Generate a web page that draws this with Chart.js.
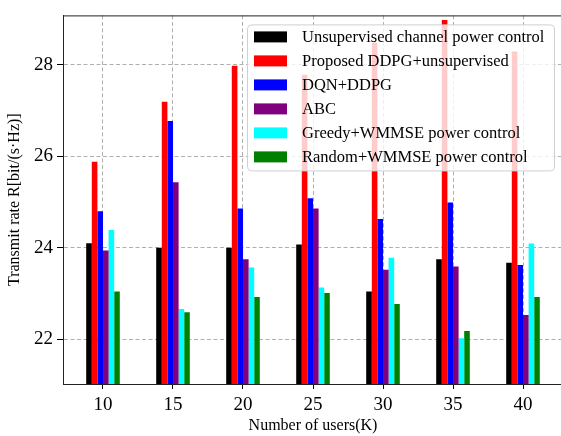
<!DOCTYPE html>
<html>
<head>
<meta charset="utf-8">
<script src="https://cdn.jsdelivr.net/npm/chart.js@4"></script>
<style>
  html, body { margin: 0; padding: 0; overflow: hidden; background: #fff; }
  #wrap { width: 564px; height: 436px; }
</style>
</head>
<body>
<div id="wrap"><canvas id="myChart" width="564" height="436"></canvas></div>
<script>
const users = [10, 15, 20, 25, 30, 35, 40];
const unsupervised = [24.1, 24.0, 24.0, 24.07, 23.04, 23.75, 23.67];
const proposed = [25.88, 27.19, 27.98, 27.78, 28.49, 28.98, 28.29];
const dqnDdpg = [24.8, 26.77, 24.86, 25.08, 24.63, 24.99, 23.62];
const abc = [23.94, 25.43, 23.75, 24.86, 23.52, 23.59, 22.53];
const greedy = [24.39, 22.66, 23.57, 23.13, 23.78, 22.02, 24.09];
const random = [23.04, 22.59, 22.92, 23.01, 22.77, 22.18, 22.92];
const yTicks = [22, 24, 26, 28];

const serif = "'Liberation Serif', 'Times New Roman', serif";
Chart.defaults.font.family = serif;
Chart.defaults.color = "#000";

const points = (arr) => arr.map((v, i) => ({ x: users[i], y: v }));

// legend box drawn over the plot, semi-transparent like matplotlib
const boxLegend = {
  id: "boxLegend",
  afterDraw(chart) {
    const { ctx, chartArea } = chart;
    ctx.save();
    // top spine
    ctx.strokeStyle = "#222";
    ctx.lineWidth = 1;
    ctx.beginPath();
    ctx.moveTo(chartArea.left, chartArea.top + 0.5);
    ctx.lineTo(chartArea.right, chartArea.top + 0.5);
    ctx.stroke();

    const x0 = chartArea.right - 316;
    const y0 = chartArea.top + 9;
    ctx.beginPath();
    ctx.roundRect(x0 + 0.5, y0 + 0.5, 307, 146, 4);
    ctx.fillStyle = "rgba(255,255,255,0.8)";
    ctx.fill();
    ctx.strokeStyle = "#d0d0d0";
    ctx.stroke();

    ctx.font = "16.5px " + serif;
    ctx.textBaseline = "middle";
    chart.data.datasets.forEach((ds, i) => {
      const cy = y0 + 12.5 + i * 24;
      ctx.fillStyle = ds.backgroundColor;
      ctx.fillRect(x0 + 7, cy - 5.5, 33, 11);
      ctx.fillStyle = "#000";
      ctx.fillText(ds.label, x0 + 55, cy + 1);
    });
    ctx.restore();
  },
};

const gridOpts = {
  color: "#b0b0b0",
  lineWidth: 1,
  tickColor: "#000",
  tickBorderDash: [],
  offset: false,
};

new Chart(document.getElementById("myChart"), {
  type: "bar",
  data: {
    datasets: [
      { label: "Unsupervised channel power control", data: points(unsupervised), backgroundColor: "#000000" },
      { label: "Proposed DDPG+unsupervised", data: points(proposed), backgroundColor: "#ff0000" },
      { label: "DQN+DDPG", data: points(dqnDdpg), backgroundColor: "#0000ff" },
      { label: "ABC", data: points(abc), backgroundColor: "#800080" },
      { label: "Greedy+WMMSE power control", data: points(greedy), backgroundColor: "#00ffff" },
      { label: "Random+WMMSE power control", data: points(random), backgroundColor: "#008000" },
    ],
  },
  options: {
    responsive: false,
    animation: false,
    categoryPercentage: 0.48,
    barPercentage: 1,
    layout: { padding: { left: 0, right: 1, top: 12, bottom: 0 } },
    plugins: { legend: { display: false }, tooltip: { enabled: false } },
    scales: {
      x: {
        type: "linear",
        offset: false,
        min: 7.143,
        max: 42.857,
        z: 1,
        afterBuildTicks: (s) => { s.ticks = users.map((v) => ({ value: v })); },
        afterFit: (s) => { s.height = 52; },
        ticks: { font: { size: 19 }, padding: 5, maxRotation: 0, autoSkip: false },
        grid: { ...gridOpts, tickLength: 5 },
        border: { color: "#222", dash: [4, 2.5] },
        title: {
          display: true,
          text: "Number of users(K)",
          font: { size: 16 },
          padding: { top: 0, bottom: 1 },
        },
      },
      y: {
        min: 21.02,
        max: 29.08,
        z: 1,
        afterBuildTicks: (s) => { s.ticks = yTicks.map((v) => ({ value: v })); },
        afterFit: (s) => { s.width = 63; },
        ticks: { font: { size: 19 }, padding: 4 },
        grid: { ...gridOpts, tickLength: 6 },
        border: { color: "#222", dash: [4, 2.5] },
        title: {
          display: true,
          text: "Transmit rate R[bit/(s·Hz)]",
          font: { size: 16 },
          padding: { top: 5, bottom: 0 },
        },
      },
    },
  },
  plugins: [boxLegend],
});
</script>
</body>
</html>
